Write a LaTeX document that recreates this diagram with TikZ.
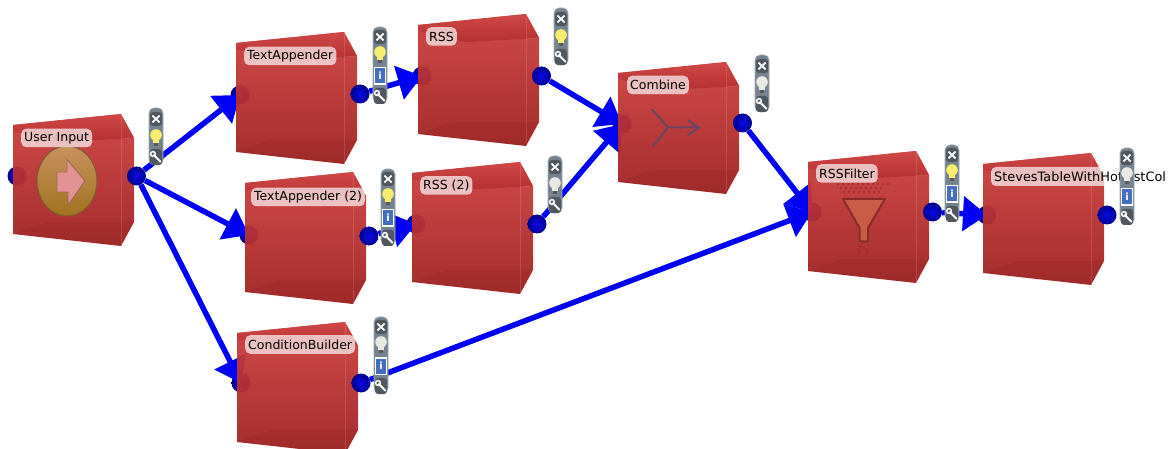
\documentclass[tikz,border=0pt]{standalone}
\usepackage{fontspec}
\setmainfont{DejaVu Sans}
\usetikzlibrary{arrows.meta}
\pgfdeclarelayer{wires}
\pgfdeclarelayer{paper}
\pgfsetlayers{paper,wires,main}
\definecolor{wireblue}{HTML}{0000F5}
\definecolor{barbody}{HTML}{76838E}
\definecolor{barcell}{HTML}{50575E}
\definecolor{bulbon}{HTML}{F6EC6E}
\definecolor{bulboff}{HTML}{E9E9E4}
\definecolor{iconline}{HTML}{6B4560}
\definecolor{funneldark}{HTML}{8A2B2A}
\definecolor{funnelfill}{HTML}{C85C46}
\definecolor{boxhi}{HTML}{CE4040}
\definecolor{boxlo}{HTML}{A02222}
\definecolor{tophi}{HTML}{D04848}
\definecolor{toplo}{HTML}{B43030}
\definecolor{foot}{HTML}{8E1A1A}
\definecolor{ballhi}{HTML}{0A0AE8}
\definecolor{balllo}{HTML}{000090}
\definecolor{infoblue}{HTML}{466EBE}
\definecolor{coinhi}{HTML}{C8915F}
\definecolor{coinlo}{HTML}{A0731E}
\definecolor{coinedge}{HTML}{7D5A32}
\definecolor{arrowpink}{HTML}{E29292}
\definecolor{arrowedge}{HTML}{9B695A}
\tikzset{
  x=1pt,y=-1pt,
  boxbody/.style={shade,top color=boxhi,bottom color=boxlo,fill opacity=.95},
  boxtop/.style={shade,top color=tophi,bottom color=toplo},
  boxfoot/.style={fill=foot,fill opacity=.18},
  boxline/.style={draw=white,draw opacity=.13,line width=.8pt},
  portball/.style={circle,draw=none,minimum size=19pt,inner sep=0pt,inner color=ballhi,outer color=balllo},
  wire/.style={draw=wireblue,line width=5.5pt},
  wiretip/.style={wire,-{Triangle[length=24pt,width=34pt]}},
  pill/.style={anchor=west,fill=white,fill opacity=.68,text opacity=1,text=black,rounded corners=5pt,inner xsep=3pt,inner ysep=0pt,minimum height=18.5pt,font=\fontsize{12.5}{14}\selectfont},
  barshape/.style={fill=barbody,draw=barbody!70!white,line width=.6pt,rounded corners=5pt},
  barx/.style={draw=white,line width=1.7pt},
  wrench/.style={draw=white,line width=2pt,line cap=round},
}
\newcommand\modbox[2]{%
  \begin{scope}[shift={(#1,#2)}]
    \path[boxbody] (0,0)--(108,-11)--(121,13)--(121,97)--(108,121)--(0,109)--cycle;
    \path[boxtop] (0,0)--(108,-11)--(121,13)--(47,17)--(0,6)--cycle;
    \path[boxfoot] (35,97)--(121,97)--(108,121)--(0,109)--cycle;
    \draw[boxline] (108,-11)--(108,121);
    \draw[boxline] (108,14)--(121,13);
  \end{scope}}
\newcommand\bulbicon[2]{% y offset, colour
  \fill[#2] (0,#1-2) circle (5.8);
  \fill[#2] (-2.8,#1+2) rectangle (2.8,#1+6);
  \fill[gray!70!black] (-2.3,#1+6) rectangle (2.3,#1+9);}
\newcommand\xicon[1]{%
  \fill[barcell,rounded corners=3pt] (-6,#1-7) rectangle (6,#1+7);
  \draw[barx] (-3.6,#1-3.4)--(3.6,#1+3.4) (-3.6,#1+3.4)--(3.6,#1-3.4);}
\newcommand\wrenchicon[1]{%
  \fill[barcell,rounded corners=3pt] (-6,#1-8) rectangle (6,#1+8);
  \draw[wrench] (-2.2,#1-2)--(4.4,#1+4.6);
  \draw[draw=white,line width=1.5pt] (-3,#1-3) circle (2.4);}
\newcommand\toolbar[3]{% cx, top, bulb
  \begin{scope}[shift={(#1,#2)}]
    \path[barshape] (-7,0) rectangle (7,57);
    \xicon{11}
    \bulbicon{29}{#3}
    \wrenchicon{49}
  \end{scope}}
\newcommand\toolbarinfo[3]{% cx, top, bulb
  \begin{scope}[shift={(#1,#2)}]
    \path[barshape] (-7,0) rectangle (7,76);
    \xicon{10}
    \bulbicon{27}{#3}
    \fill[white] (-6,40) rectangle (6,58);
    \fill[infoblue] (-4.6,41.5) rectangle (4.6,56.5);
    \node[text=white,inner sep=0pt,font=\fontsize{10}{10}\bfseries\selectfont] (info#1) at (0,49) {i};
    \wrenchicon{69}
  \end{scope}}
\begin{document}
\begin{tikzpicture}
\useasboundingbox (0,0) rectangle (1171,449);
\begin{pgfonlayer}{paper}
  \fill[white] (0,0) rectangle (1171,449);
\end{pgfonlayer}

% input ports, under the boxes
\begin{pgfonlayer}{wires}
  \node[portball] (uiin) at (17,176) {};
  \node[portball] (tain) at (240,95) {};
  \node[portball] (tbin) at (249,235) {};
  \node[portball] (rain) at (422,76) {};
  \node[portball] (rbin) at (416,224) {};
  \node[portball] (coin) at (622,124) {};
  \node[portball] (flin) at (812,212) {};
  \node[portball] (stin) at (987,215) {};
  \node[portball] (cbin) at (241,383) {};
\end{pgfonlayer}

\modbox{13}{125}
\modbox{236}{43}
\modbox{245}{183}
\modbox{418}{25}
\modbox{412}{173}
\modbox{618}{73}
\modbox{808}{162}
\modbox{983}{164}
\modbox{237}{333}

% output ports
\node[portball] (uiout) at (136.5,176) {};
\node[portball] (taout) at (360,94) {};
\node[portball] (tbout) at (369,236) {};
\node[portball] (raout) at (541.5,76) {};
\node[portball] (rbout) at (537,224) {};
\node[portball] (coout) at (742.5,123) {};
\node[portball] (flout) at (932.5,212) {};
\node[portball] (stout) at (1107,215) {};
\node[portball] (cbout) at (361,383) {};

% wires
\begin{pgfonlayer}{wires}
  \draw[wiretip] (uiout) -- (tain.center);
  \draw[wiretip] (uiout) -- (tbin.center);
  \draw[wiretip] (uiout) -- (cbin.center);
  \draw[wiretip] (taout) -- (rain.center);
  \draw[wiretip] (tbout) -- (rbin.center);
  \draw[wiretip] (raout) -- (coin.center);
  \draw[wiretip] (rbout) -- (coin.center);
  \draw[wiretip] (coout) -- (flin.center);
  \draw[wiretip] (cbout) -- (flin.center);
  \draw[wiretip] (flout) -- (stin.center);
\end{pgfonlayer}

% User Input icon
\shade[top color=coinhi,bottom color=coinlo,draw=coinedge,line width=1pt] (67,181) ellipse (30 and 35);
\path[fill=arrowpink,draw=arrowedge,line width=.9pt]
  (57,172)--(67,172)--(67,159.5)--(85,181)--(68,205)--(68,192)--(57,192)--cycle;

% Combine icon
\draw[draw=iconline,line width=2pt,line cap=round] (652,109.5)--(668,127.5)--(653,146) (668,127.5)--(699,127.5) (688,120)--(699,127.5)--(688,135);

% Funnel icon
\fill[funneldark,opacity=.65] foreach \px in {838,843,...,889} {(\px,184) circle (1.3)};
\fill[funneldark,opacity=.65] foreach \px in {841,846,...,885} {(\px,188) circle (1.3)};
\fill[funneldark,opacity=.65] foreach \px in {844,849,...,880} {(\px,192) circle (1.3)};
\path[fill=funnelfill,draw=funneldark,line width=2pt,line join=round]
  (843,199)--(885,199)--(868,228)--(868,241.5)--(859.5,241.5)--(859.5,228)--cycle;
\fill[funneldark,opacity=.75] (860,246.5) circle (1.4) (864,246.5) circle (1.4) (859,251.5) circle (1.4) (867,251.5) circle (1.4);

% labels
\node[pill] (uilabel) at (21,138) {User Input};
\node[pill] (talabel) at (244,56) {TextAppender};
\node[pill] (tblabel) at (251,197) {TextAppender (2)};
\node[pill] (ralabel) at (426,36.5) {RSS};
\node[pill] (rblabel) at (420,185.5) {RSS (2)};
\node[pill] (colabel) at (627,85) {Combine};
\node[pill] (fllabel) at (816,173.5) {RSSFilter};
\node[pill] (cblabel) at (245,344.5) {ConditionBuilder};
\fill[white,fill opacity=.68,rounded corners=5pt] (991,167) rectangle (1122,186);
\node[anchor=west,inner sep=0pt,font=\fontsize{12.9}{14}\selectfont] (stlabel) at (994,177) {StevesTableWithHotListCol};

% tool bars
\toolbar{156}{108}{bulbon}
\toolbarinfo{380}{27}{bulbon}
\toolbar{561}{8}{bulbon}
\toolbarinfo{388}{169}{bulbon}
\toolbar{555}{156}{bulboff}
\toolbar{762}{55}{bulboff}
\toolbarinfo{952}{145}{bulbon}
\toolbarinfo{1127}{148}{bulboff}
\toolbarinfo{381}{317}{bulboff}
\end{tikzpicture}
\end{document}
